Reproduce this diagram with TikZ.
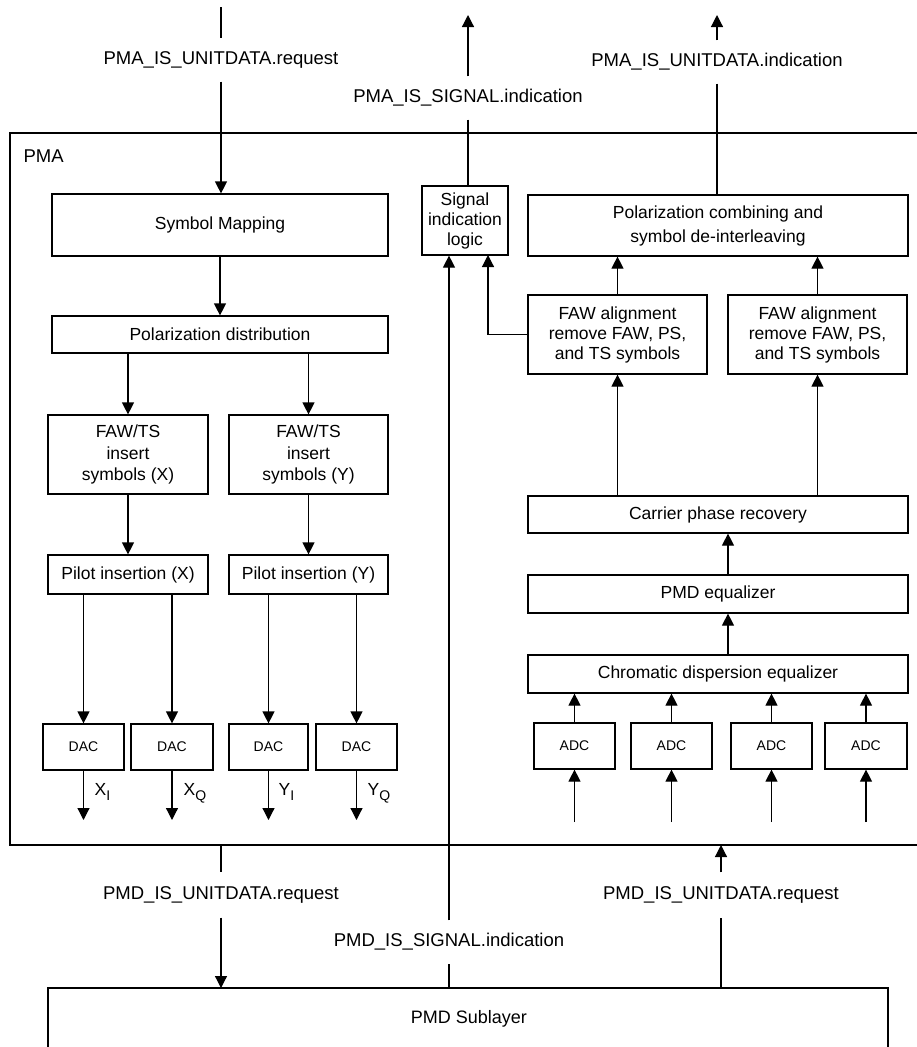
\documentclass[tikz,border=0pt]{standalone}
\usepackage{fontspec}
\setmainfont{Liberation Sans}
\usetikzlibrary{arrows.meta}
\begin{document}
\begin{tikzpicture}[x=1pt,y=-1pt,line width=1.2pt,
  blk/.style={draw, align=center, inner sep=0pt, font=\fontsize{17.5}{20}\selectfont},
  cnv/.style={draw, align=center, inner sep=0pt, font=\fontsize{14}{16}\selectfont, minimum height=46pt},
  lbl/.style={inner sep=0pt, minimum height=42pt, font=\fontsize{18.5}{22}\selectfont},
  sub/.style={inner sep=0pt, anchor=base west, font=\fontsize{17.5}{20}\selectfont},
  arr/.style={-{Triangle[length=12pt,width=12pt]}}
]
\useasboundingbox (0,0) rectangle (917,1047);

% PMA frame
\coordinate (pmaTL) at (10,133);
\coordinate (pmaBL) at (10,845);
\draw (920,133) -- (pmaTL) -- (pmaBL) -- (920,845);
\node[anchor=west, inner sep=0pt, font=\fontsize{18.5}{22}\selectfont] (pma) at (23,156) {PMA};

% PMD sublayer frame
\coordinate (pmdtop) at (468,988);
\draw (48,1060) -- (48,988) -- (888,988) -- (888,1060);
\node[inner sep=0pt, font=\fontsize{18}{22}\selectfont] (pmdtxt) at (469,1019) {PMD Sublayer};

% ---- transmit side ----
\node[blk, minimum width=336pt, minimum height=62pt] (sm) at (220,225) {Symbol Mapping};
\node[blk, minimum width=336pt, minimum height=37pt] (pd) at (220,334.5) {Polarization distribution};
\node[blk, minimum width=160pt, minimum height=79pt, font=\fontsize{17.5}{21.5}\selectfont] (fx) at (128,454.5) {FAW/TS\\insert\\symbols (X)};
\node[blk, minimum width=159pt, minimum height=79pt, font=\fontsize{17.5}{21.5}\selectfont] (fy) at (308.5,454.5) {FAW/TS\\insert\\symbols (Y)};
\node[blk, minimum width=160pt, minimum height=39pt] (px) at (128,574.5) {Pilot insertion (X)};
\node[blk, minimum width=159pt, minimum height=39pt] (py) at (308.5,574.5) {Pilot insertion (Y)};
\node[cnv, minimum width=81pt] (dac1) at (83.5,747) {DAC};
\node[cnv, minimum width=82pt] (dac2) at (172,747) {DAC};
\node[cnv, minimum width=79pt] (dac3) at (268.5,747) {DAC};
\node[cnv, minimum width=81pt] (dac4) at (356.5,747) {DAC};

\draw[arr] (sm) -- (pd);
\draw[arr] (pd.south -| fx) -- (fx);
\draw[arr] (pd.south -| fy) -- (fy);
\draw[arr] (fx) -- (px);
\draw[arr] (fy) -- (py);
\draw[arr] (px.south -| dac1) -- (dac1);
\draw[arr] (px.south -| dac2) -- (dac2);
\draw[arr] (py.south -| dac3) -- (dac3);
\draw[arr] (py.south -| dac4) -- (dac4);

\coordinate (do1) at (83.5,820);
\coordinate (do2) at (172,820);
\coordinate (do3) at (268.5,820);
\coordinate (do4) at (356.5,820);
\draw[arr] (dac1) -- (do1);
\draw[arr] (dac2) -- (do2);
\draw[arr] (dac3) -- (do3);
\draw[arr] (dac4) -- (do4);
\node[sub] (xi) at (94,795) {X\raisebox{-5pt}{\fontsize{14}{14}\selectfont I}};
\node[sub] (xq) at (183,795) {X\raisebox{-5pt}{\fontsize{14}{14}\selectfont Q}};
\node[sub] (yi) at (278,795) {Y\raisebox{-5pt}{\fontsize{14}{14}\selectfont I}};
\node[sub] (yq) at (367,795) {Y\raisebox{-5pt}{\fontsize{14}{14}\selectfont Q}};

% ---- receive side ----
\node[blk, minimum width=86pt, minimum height=69pt] (sil) at (465,220.5) {Signal\\indication\\logic};
\node[blk, minimum width=380pt, minimum height=61pt, font=\fontsize{17.5}{24}\selectfont] (pc) at (718,225.5) {Polarization combining and\\symbol de-interleaving};
\node[blk, minimum width=179pt, minimum height=79pt] (fa1) at (617.5,334.5) {FAW alignment\\remove FAW, PS,\\and TS symbols};
\node[blk, minimum width=179pt, minimum height=79pt] (fa2) at (817.5,334.5) {FAW alignment\\remove FAW, PS,\\and TS symbols};
\node[blk, minimum width=380pt, minimum height=37pt] (cpr) at (718,514.5) {Carrier phase recovery};
\node[blk, minimum width=380pt, minimum height=38pt] (pmde) at (718,594) {PMD equalizer};
\node[blk, minimum width=380pt, minimum height=38pt] (cde) at (718,674) {Chromatic dispersion equalizer};
\node[cnv, minimum width=81pt] (adc1) at (574.5,746) {ADC};
\node[cnv, minimum width=81pt] (adc2) at (671.5,746) {ADC};
\node[cnv, minimum width=81pt] (adc3) at (771.5,746) {ADC};
\node[cnv, minimum width=82pt] (adc4) at (866,746) {ADC};

\coordinate (ai1) at (574.5,822);
\coordinate (ai2) at (671.5,822);
\coordinate (ai3) at (771.5,822);
\coordinate (ai4) at (866,822);
\draw[arr] (ai1) -- (adc1);
\draw[arr] (ai2) -- (adc2);
\draw[arr] (ai3) -- (adc3);
\draw[arr] (ai4) -- (adc4);
\draw[arr] (adc1) -- (adc1 |- cde.south);
\draw[arr] (adc2) -- (adc2 |- cde.south);
\draw[arr] (adc3) -- (adc3 |- cde.south);
\draw[arr] (adc4) -- (adc4 |- cde.south);
\draw[arr] ([xshift=10pt]cde.north) -- ([xshift=10pt]pmde.south);
\draw[arr] ([xshift=10pt]pmde.north) -- ([xshift=10pt]cpr.south);
\draw[arr] (cpr.north -| fa1) -- (fa1);
\draw[arr] (cpr.north -| fa2) -- (fa2);
\draw[arr] (fa1) -- (fa1 |- pc.south);
\draw[arr] (fa2) -- (fa2 |- pc.south);
\coordinate (sj) at (488,255);
\draw[arr] (fa1.west) -| (sj);

% ---- service interface labels (top) ----
\coordinate (t1) at (221,7);
\coordinate (t2) at (468,15);
\coordinate (t3) at (717,15);
\node[lbl] (l1) at (221,60) {PMA\_IS\_UNITDATA.request};
\node[lbl] (l2) at (468,98) {PMA\_IS\_SIGNAL.indication};
\node[lbl] (l3) at (717,62) {PMA\_IS\_UNITDATA.indication};
\draw (t1) -- (l1);
\draw[arr] (l1) -- (l1 |- sm.north);
\draw[arr] (l2) -- (t2);
\draw (l2) -- (l2 |- sil.north);
\draw[arr] (l3) -- (t3);
\draw (l3) -- (l3 |- pc.north);

% ---- service interface labels (bottom) ----
\node[lbl, minimum height=44pt] (l4) at (221,895) {PMD\_IS\_UNITDATA.request};
\node[lbl] (l5) at (449,942) {PMD\_IS\_SIGNAL.indication};
\node[lbl, minimum height=44pt] (l6) at (721,895) {PMD\_IS\_UNITDATA.request};
\draw (l4 |- pmaBL) -- (l4);
\draw[arr] (l4) -- (l4 |- pmdtop);
\draw (l5 |- pmdtop) -- (l5);
\draw[arr] (l5) -- (l5 |- sil.south);
\draw (l6 |- pmdtop) -- (l6);
\draw[arr] (l6) -- (l6 |- pmaBL);
\end{tikzpicture}
\end{document}
